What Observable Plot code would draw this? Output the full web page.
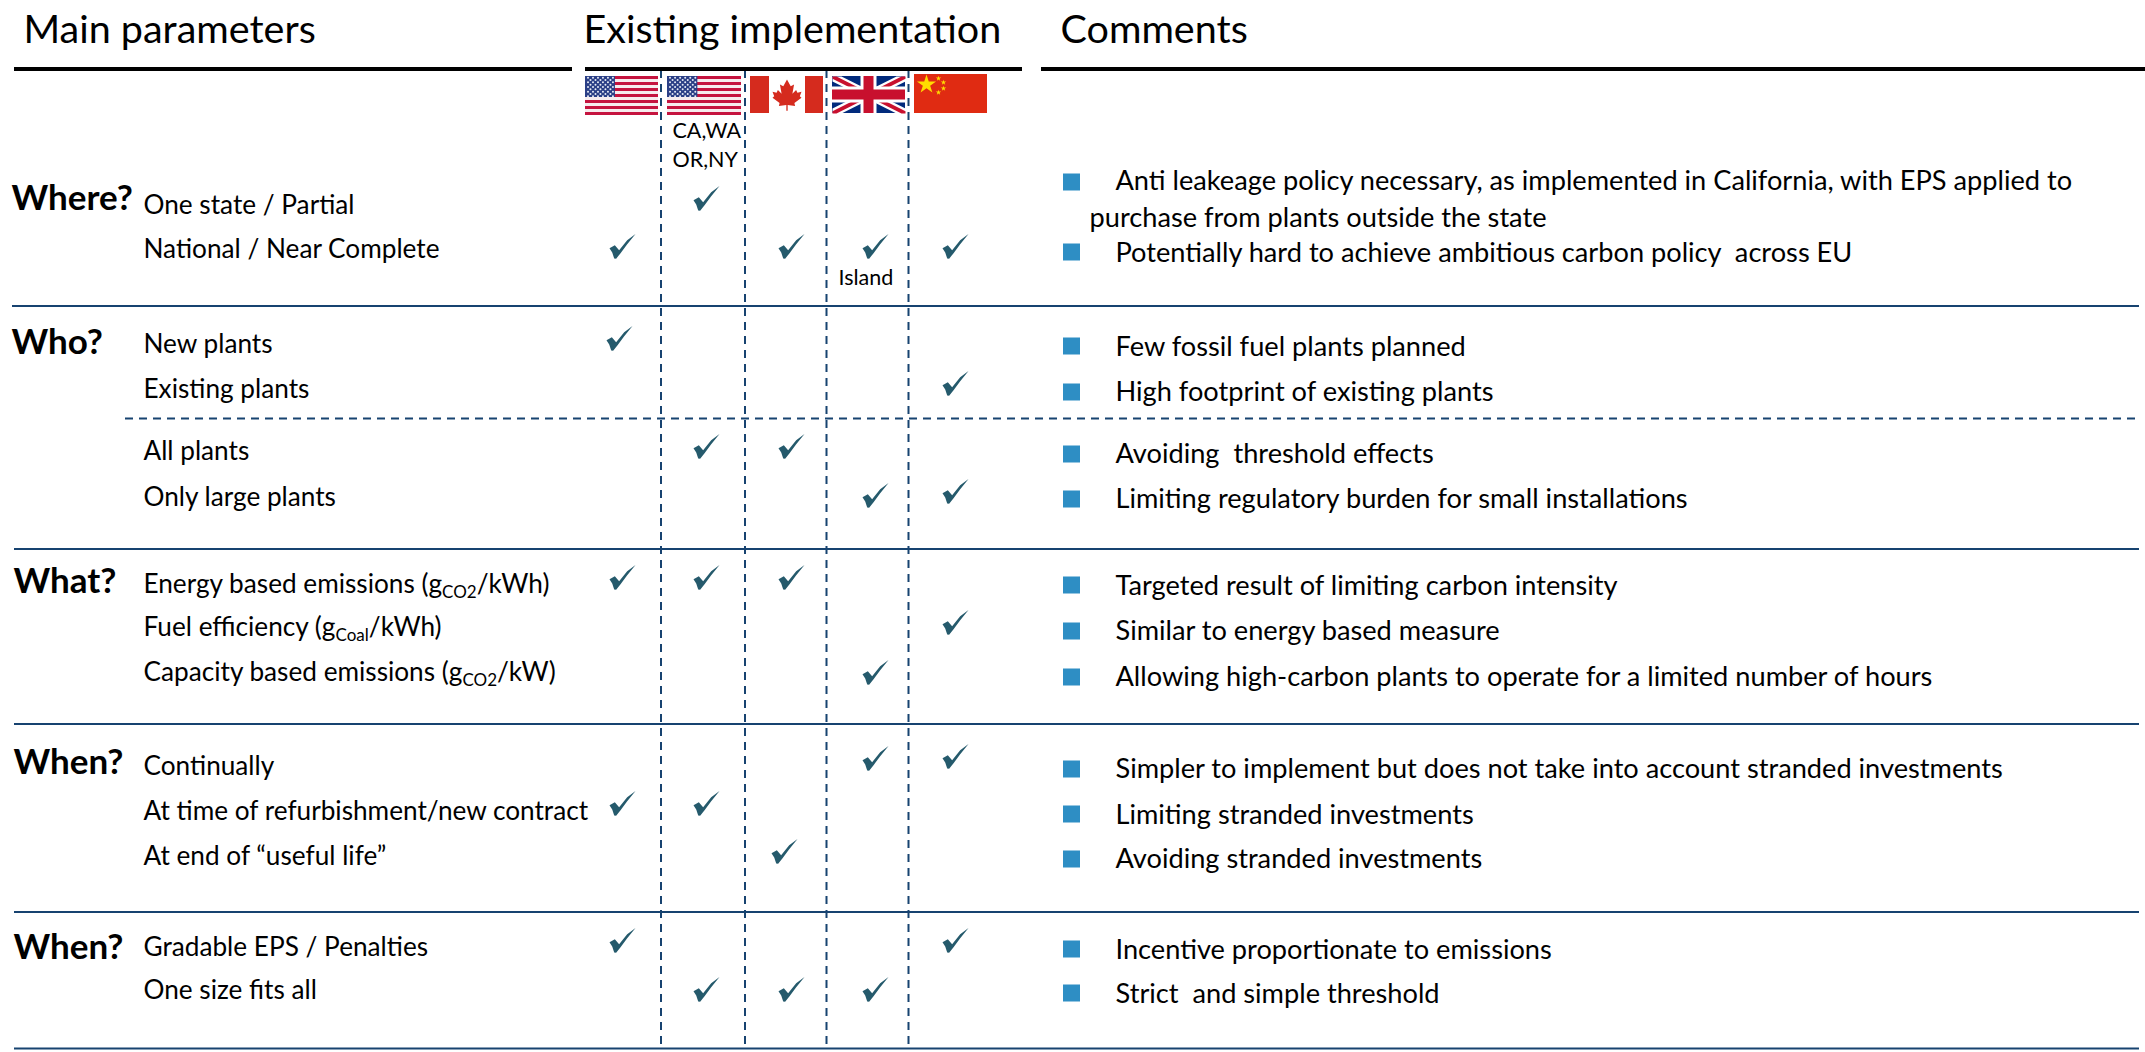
<!DOCTYPE html>
<html><head><meta charset="utf-8">
<script src="https://cdn.jsdelivr.net/npm/d3@7"></script>
<script src="https://cdn.jsdelivr.net/npm/@observablehq/plot@0.6"></script>
<style>html,body{margin:0;padding:0;background:#fff;overflow:hidden}svg{display:block}</style>
</head><body><div id="chart"></div>
<script>
// ---------- content ----------
const headers = ["Main parameters", "Existing implementation", "Comments"];
const questions = ["Where?", "Who?", "What?", "When?", "When?"];
const rowLabels = [
  "One state / Partial", "National / Near Complete",
  "New plants", "Existing plants", "All plants", "Only large plants",
  "Energy based emissions (g_{CO2}/kWh)", "Fuel efficiency (g_{Coal}/kWh)", "Capacity based emissions (g_{CO2}/kW)",
  "Continually", "At time of refurbishment/new contract", "At end of \u201Cuseful life\u201D",
  "Gradable EPS / Penalties", "One size fits all"
];
const comments = [
  "Anti leakeage policy necessary, as implemented in California, with EPS applied to",
  "Potentially hard to achieve ambitious carbon policy  across EU",
  "Few fossil fuel plants planned", "High footprint of existing plants",
  "Avoiding  threshold effects", "Limiting regulatory burden for small installations",
  "Targeted result of limiting carbon intensity", "Similar to energy based measure",
  "Allowing high-carbon plants to operate for a limited number of hours",
  "Simpler to implement but does not take into account stranded investments",
  "Limiting stranded investments", "Avoiding stranded investments",
  "Incentive proportionate to emissions", "Strict  and simple threshold"
];
const commentContinuation = "purchase from plants outside the state";
const columnNotes = ["CA,WA", "OR,NY", "Island"];
// which of the five implementation columns is ticked, per row
const ticks = [[1],[0,2,3,4],[0],[4],[1,2],[3,4],[0,1,2],[4],[3],[3,4],[0,1],[2],[0,4],[1,2,3]];

// ---------- layout (reference pixels) ----------
const headerAt = [23, 583, 1060];
const questionX = [11, 11, 13, 13, 13];
const questionY = [198, 342, 581, 762, 947];
const rowLabelX = 143;
const rowLabelY = [205, 249, 344, 389, 451, 497, 584, 627, 672, 766, 811, 856, 947, 990];
const bulletY = [182, 252, 346, 392, 454, 499, 585, 631, 677, 769, 814, 859, 949, 993];
const commentY = [181, 253, 347, 392, 454, 499, 586, 631, 677, 769, 815, 859, 950, 994];
const commentContinuationY = 218;
const tickX = [622, 706, 791, 875, 955];
const tickY = [198, 246, 338, 383, 446, 493, 577, 622, 672, 758, 803, 851, 940, 989];
const tickNudge = {"11:2": [-7,0], "2:0": [-3,0], "5:3": [0,2], "5:4": [0,-2], "9:4": [0,-2]};
const verticalRuleX = [660.5, 744.5, 826, 908];
const headerRules = [{x1:14,x2:572},{x1:585,x2:1022},{x1:1041,x2:2145}];
const solidRules = [{y:305.5,x1:12},{y:548.5,x1:14},{y:723.5,x1:14},{y:911.5,x1:14},{y:1048,x1:14}];
const dashedRule = {y:418,x1:125};
const navy = "#174370", tickColor = "#255a6c", bulletColor = "#2e8ec4";

// ---------- helpers ----------
const symbolFrom = (pts) => ({draw(ctx, size){
  const r = Math.sqrt(size/Math.PI);
  pts.forEach(([x,y],i)=> i ? ctx.lineTo(x*r,y*r) : ctx.moveTo(x*r,y*r));
  ctx.closePath();
}});
const tickSymbol = symbolFrom([[-1,.13],[-.59,-.1],[-.26,.28],[.36,-.49],[1,-.97],[.36,-.18],[-.15,.51],[-.49,.95],[-.64,.92],[-.79,.46]]);
const leafHalf = [[0,-46],[11,-26],[21,-31],[16,-4],[27,-15],[31,-7],[43,-10],[38,4],[43,8],[22,24],[24,33],[2,30],[2,47]];
const leafSymbol = symbolFrom([...leafHalf,...leafHalf.slice().reverse().map(([x,y])=>[-x,y])].map(([x,y])=>[x/46,y/46]));
const box = (list, fill, o={}) => Plot.rect(list,{x1:"x1",x2:"x2",y1:"y1",y2:"y2",fill,...o});
const poly = (pts, fill) => Plot.line(pts,{x:"0",y:"1",fill,stroke:"none",curve:"linear"});
const txt = (list, o) => Plot.text(list,{text:"t",x:"x",y:"y",textAnchor:"start",lineAnchor:"middle",fill:"#000",...o});
const pick = (arr, xs, ys) => arr.map((t,i)=>({t, x: Array.isArray(xs)?xs[i]:xs, y: ys[i]}));

function usFlag(x0,x1,y0,y1){
  const h=(y1-y0)/13, cw=(x1-x0)*0.41, ch=h*7;
  const stripes=d3.range(13).filter(i=>i%2==0).map(i=>({x1:x0,x2:x1,y1:y0+i*h,y2:y0+(i+1)*h}));
  const stars=[];
  for(let r=0;r<9;r++) for(let c=0;c<(r%2?5:6);c++)
    stars.push({x:x0+cw*((c+(r%2?1:.5))/6),y:y0+ch*((r+.5)/9)});
  return [
    box([{x1:x0,x2:x1,y1:y0,y2:y1}],"#f6ecee"),
    box(stripes,"#c5143f"),
    box([{x1:x0,x2:x0+cw,y1:y0,y2:y0+ch}],"#2b3f86"),
    Plot.dot(stars,{x:"x",y:"y",r:1,fill:"#e8ecf5",stroke:"none"})
  ];
}
function caFlag(x0,x1,y0,y1){
  const red="#d52b1e", cx=(x0+x1)/2;
  return [
    box([{x1:x0,x2:x0+19,y1:y0,y2:y1},{x1:x1-18,x2:x1,y1:y0,y2:y1}],red),
    Plot.dot([{x:cx,y:(y0+y1)/2}],{x:"x",y:"y",r:15.5,symbol:leafSymbol,fill:red,stroke:"none"})
  ];
}
function ukFlag(x0,x1,y0,y1){
  const mx=(x0+x1)/2,my=(y0+y1)/2, blue="#012a7c", red="#c8102e";
  const diag=(a,b,fill)=>[
    poly([[x0,y0],[x0+a,y0],[x1,y1-b],[x1,y1],[x1-a,y1],[x0,y0+b]],fill),
    poly([[x1,y0],[x1-a,y0],[x0,y1-b],[x0,y1],[x0+a,y1],[x1,y0+b]],fill)];
  return [
    box([{x1:x0,x2:x1,y1:y0,y2:y1}],blue),
    ...diag(9,5,"#fff"), ...diag(4,2.2,red),
    box([{x1:mx-8,x2:mx+8,y1:y0,y2:y1},{x1:x0,x2:x1,y1:my-8,y2:my+8}],"#fff"),
    box([{x1:mx-5,x2:mx+5,y1:y0,y2:y1},{x1:x0,x2:x1,y1:my-5,y2:my+5}],red)
  ];
}
function cnFlag(x0,x1,y0,y1){
  return [
    box([{x1:x0,x2:x1,y1:y0,y2:y1}],"#e02b12"),
    Plot.dot([{x:x0+12,y:y0+10}],{x:"x",y:"y",r:6,symbol:"star",fill:"#ffdd00",stroke:"none"}),
    Plot.dot([{x:x0+24,y:y0+4},{x:x0+29,y:y0+8},{x:x0+29,y:y0+14},{x:x0+24,y:y0+18}],{x:"x",y:"y",r:1.7,symbol:"star",fill:"#ffdd00",stroke:"none"})
  ];
}

// ---------- derived tables ----------
const tickMarks = ticks.flatMap((cols,r)=>cols.map(c=>{
  const [dx,dy]=tickNudge[r+":"+c]||[0,0];
  return {x:tickX[c]+dx,y:tickY[r]+dy};
}));
const bullets = bulletY.map(y=>({x1:1063,x2:1080,y1:y-8.5,y2:y+8.5}));

const labelSize = 26.2, commentSize = 27.2, headSize = 39.5;
const plot = Plot.plot({
  width:2145,height:1052,margin:0,
  x:{type:"linear",domain:[0,2145],range:[0,2145],axis:null},
  y:{type:"linear",domain:[0,1052],range:[0,1052],axis:null},
  style:{fontFamily:"Lato, 'Noto Sans', sans-serif",background:"#fff",overflow:"visible"},
  marks:[
    // rules
    Plot.ruleX(verticalRuleX,{y1:70,y2:1046,stroke:navy,strokeWidth:2,strokeDasharray:"8 6"}),
    Plot.ruleY(headerRules,{y:()=>68.5,x1:"x1",x2:"x2",stroke:"#000",strokeWidth:4}),
    Plot.ruleY(solidRules,{y:"y",x1:"x1",x2:()=>2139,stroke:navy,strokeWidth:2}),
    Plot.ruleY([dashedRule],{y:"y",x1:"x1",x2:()=>2136,stroke:navy,strokeWidth:2,strokeDasharray:"8 6"}),
    // headers
    txt(headers.map((t,i)=>({t,x:headerAt[i],y:30})),{fontSize:headSize}),
    // flags
    ...usFlag(585,658,76,115), ...usFlag(667,741,76,115),
    ...caFlag(750,823,76,113), ...ukFlag(832,905,76,113), ...cnFlag(914,987,74,113),
    // notes beneath flags
    txt(columnNotes.map((t,i)=>({t,x:[672,672,838][i],y:[131,160,278][i]})),{fontSize:21.5}),
    // rows
    txt(pick(questions,questionX,questionY),{fontSize:35,fontWeight:700}),
    txt(pick(rowLabels,rowLabelX,rowLabelY),{fontSize:labelSize}),
    Plot.dot(tickMarks,{x:"x",y:"y",r:13,symbol:tickSymbol,fill:tickColor,stroke:"none"}),
    // comments
    box(bullets,bulletColor),
    txt(pick(comments,1115,commentY),{fontSize:commentSize}),
    txt([{t:commentContinuation,x:1089,y:commentContinuationY}],{fontSize:commentSize})
  ]
});
// real subscripts in the unit labels
plot.querySelectorAll("text").forEach(el=>{
  const s=el.textContent, m=s.match(/^(.*)_\{(.*)\}(.*)$/);
  if(!m) return;
  el.textContent="";
  const ns="http://www.w3.org/2000/svg";
  const a=document.createElementNS(ns,"tspan"); a.textContent=m[1];
  const b=document.createElementNS(ns,"tspan"); b.textContent=m[2]; b.setAttribute("font-size","0.65em"); b.setAttribute("dy","0.3em");
  const c=document.createElementNS(ns,"tspan"); c.textContent=m[3]; c.setAttribute("dy","-0.2em");
  el.append(a,b,c);
});
document.getElementById("chart").append(plot);
</script></body></html>
